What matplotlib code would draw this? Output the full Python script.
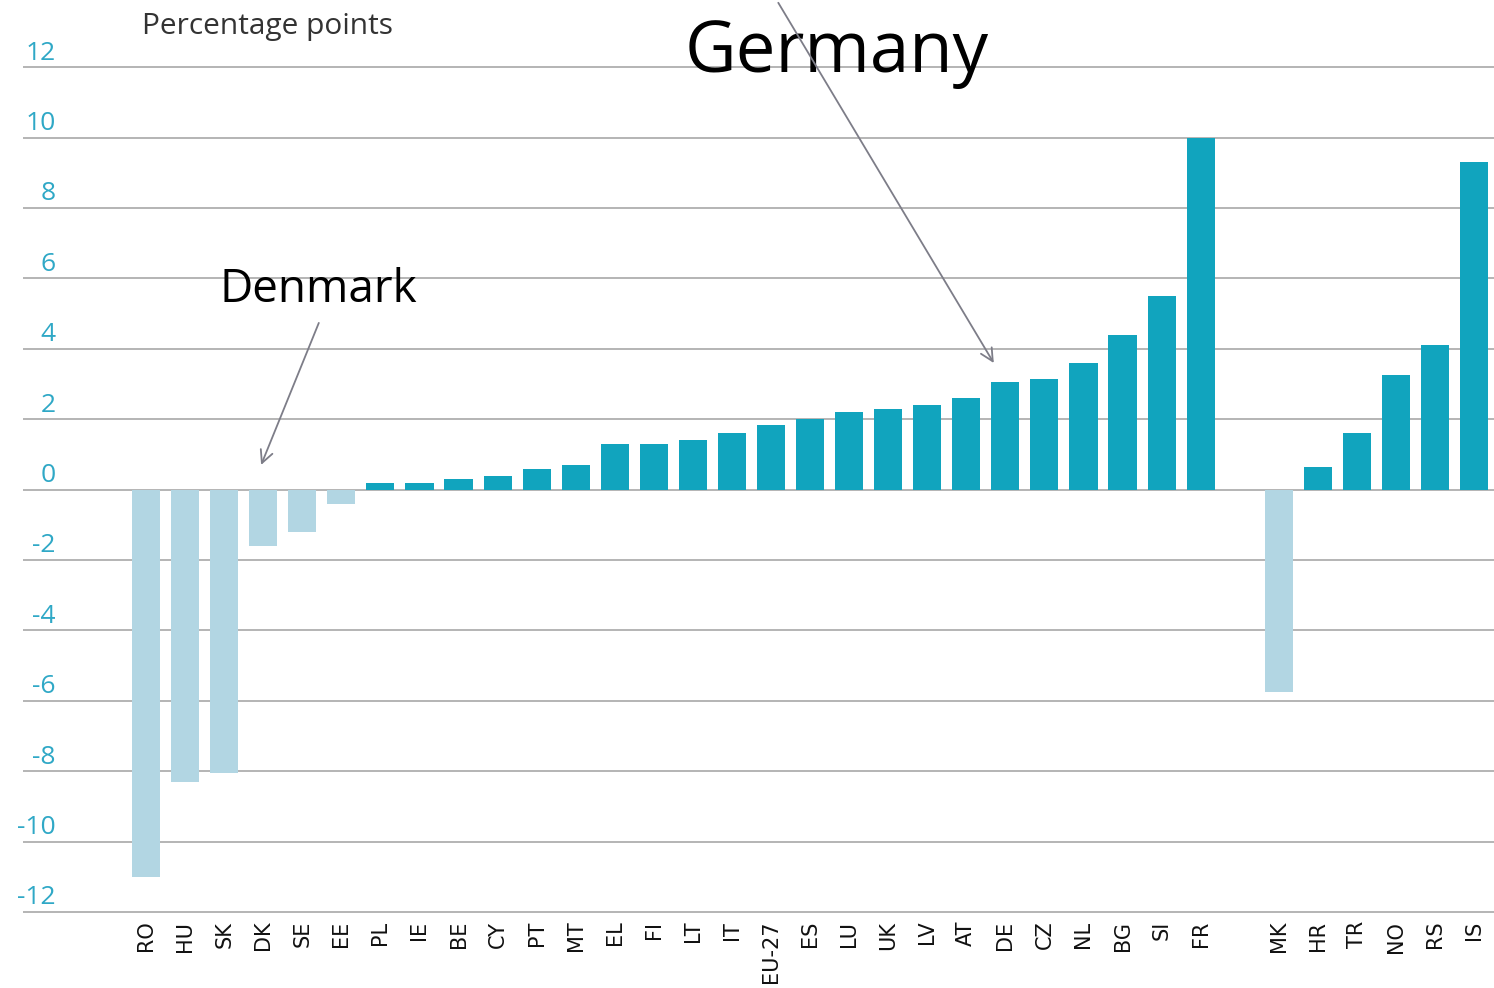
import matplotlib
matplotlib.use("Agg")
import matplotlib.pyplot as plt
import matplotlib.transforms as mtransforms

# ---- data ----
group1 = ["RO", "HU", "SK", "DK", "SE", "EE", "PL", "IE", "BE", "CY", "PT", "MT", "EL", "FI",
          "LT", "IT", "EU-27", "ES", "LU", "UK", "LV", "AT", "DE", "CZ", "NL", "BG", "SI", "FR"]
values1 = [-11.0, -8.3, -8.05, -1.6, -1.2, -0.4, 0.2, 0.2, 0.3, 0.4, 0.6, 0.7, 1.3, 1.3,
           1.4, 1.6, 1.85, 2.0, 2.2, 2.3, 2.4, 2.6, 3.05, 3.15, 3.6, 4.4, 5.5, 10.0]
group2 = ["MK", "HR", "TR", "NO", "RS", "IS"]
values2 = [-5.75, 0.65, 1.6, 3.25, 4.1, 9.3]
yticks = [-12, -10, -8, -6, -4, -2, 0, 2, 4, 6, 8, 10, 12]

POS = "#11a4be"
NEG = "#b2d6e3"
TICKC = "#2fa8c6"
GRID = "#b4b4b4"
ARROW = "#7d7d88"

fig = plt.figure(figsize=(14.94, 9.88), dpi=100)
ax = fig.add_axes([23 / 1494, 0.0751, 1 - 23 / 1494, 0.8586])

gap = 1
labels = group1 + group2
vals = values1 + values2
xs = list(range(len(group1))) + [len(group1) + gap + i for i in range(len(group2))]
colors = [POS if v >= 0 else NEG for v in vals]

ax.bar(xs, vals, width=0.72, color=colors, zorder=3)

ax.set_xlim(-3.15, 34.51)
ax.set_ylim(-12.05, 12.05)

for v in yticks:
    ax.axhline(v, color=GRID, lw=1.4, zorder=1)

ax.set_yticks([])
ax.set_xticks(xs)
ax.set_xticklabels(labels, rotation=90, fontsize=15, family="DejaVu Sans", color="#111111")
ax.tick_params(axis="x", length=0, pad=5)
for lab in ax.get_xticklabels():
    lab.set_verticalalignment("top")

for s in ax.spines.values():
    s.set_visible(False)

trans = mtransforms.blended_transform_factory(ax.transAxes, ax.transData)
for v in yticks:
    ax.annotate(str(v), xy=(0.0224, v), xycoords=trans, xytext=(0, 5.5),
                textcoords="offset points", ha="right", va="baseline",
                fontsize=19, color=TICKC, family="Open Sans")

fig.text(142 / 1494, 1 - 34 / 988, "Percentage points", fontsize=21.5,
         color="#333333", family="Open Sans", ha="left", va="baseline")

# annotations
i_de = labels.index("DE")
i_dk = labels.index("DK")
ax.text(13.8, 11.86, "Germany", fontsize=51, family="Open Sans", color="black",
        ha="left", va="baseline")
ax.annotate("", xy=(xs[i_de] - 0.26, vals[i_de] + 0.48), xytext=(16.15, 13.9),
            arrowprops=dict(arrowstyle="->,head_length=0.9,head_width=0.45", color=ARROW, lw=1.3),
            annotation_clip=False)
ax.text(1.89, 5.32, "Denmark", fontsize=33, family="Open Sans", color="black",
        ha="left", va="baseline")
ax.annotate("", xy=(xs[i_dk] - 0.08, 0.63), xytext=(4.45, 4.81),
            arrowprops=dict(arrowstyle="->,head_length=0.9,head_width=0.45", color=ARROW, lw=1.3),
            annotation_clip=False)

fig.savefig("out.png", dpi=100)
